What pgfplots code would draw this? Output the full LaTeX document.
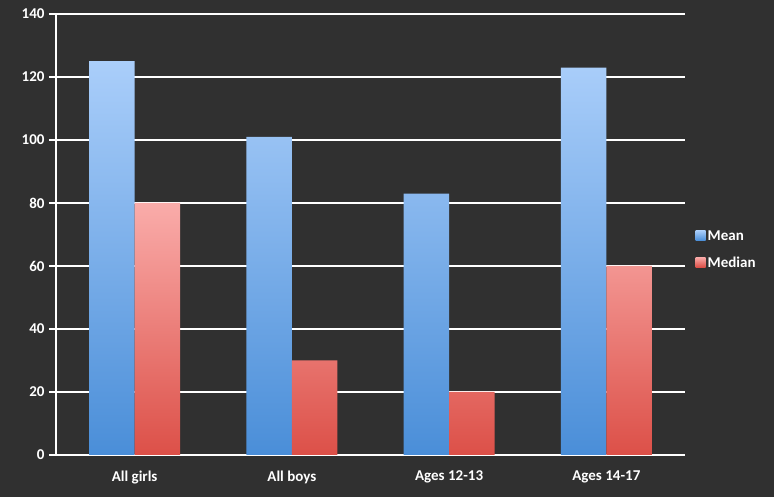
\documentclass[border=0pt]{standalone}
\usepackage{fontspec}
\setmainfont{Carlito}
\usepackage{pgfplots}
\pgfplotsset{compat=1.18}
\definecolor{bg}{HTML}{303030}
\definecolor{bluetop}{HTML}{AACEFA}
\definecolor{bluebot}{HTML}{4A8ED8}
\definecolor{redtop}{HTML}{FAACAA}
\definecolor{redbot}{HTML}{DC5048}
\begin{document}
\begin{tikzpicture}[x=1pt,y=1pt]
\fill[bg] (0,0) rectangle (774,497);
\begin{axis}[
  at={(56pt,42pt)}, anchor=south west,
  scale only axis, width=629pt, height=441pt,
  ybar=0pt, bar width=0.29,
  xmin=-0.5, xmax=3.5, ymin=0, ymax=140,
  ytick={0,20,...,140},
  xtick={0,1,2,3},
  xticklabels={All girls, All boys, Ages 12-13, Ages 14-17},
  extra x ticks={-0.5,0.5,1.5,2.5,3.5},
  extra x tick labels={},
  extra x tick style={major tick length=7pt, tick style={white, line width=1.8pt}},
  major x tick style={draw=none},
  axis x line=bottom, axis y line=left,
  axis line style={-, white, line width=1.8pt},
  ymajorgrids, grid style={white, line width=1.8pt},
  ytick style={white, line width=1.8pt},
  major tick length=7pt,
  tick align=outside,
  tick label style={white, font=\bfseries\fontsize{15}{17}\selectfont},
  /pgf/number format/assume math mode=true,
  xticklabel style={yshift=-5pt},
  yticklabel style={xshift=-1pt},
  legend style={at={(1.012,0.465)}, anchor=west, draw=none, fill=none,
    text=white, font=\bfseries\fontsize{15}{17}\selectfont, row sep=11pt},
  legend image code/.code={\fill[#1] (0pt,-4pt) rectangle (10pt,6pt);},
  legend cell align=left,
]
\addplot[draw=none, top color=bluetop, bottom color=bluebot] coordinates {(0,125) (1,101) (2,83) (3,123)};
\addplot[draw=none, top color=redtop, bottom color=redbot] coordinates {(0,80) (1,30) (2,20) (3,60)};
\legend{Mean, Median}
\end{axis}
\end{tikzpicture}
\end{document}
